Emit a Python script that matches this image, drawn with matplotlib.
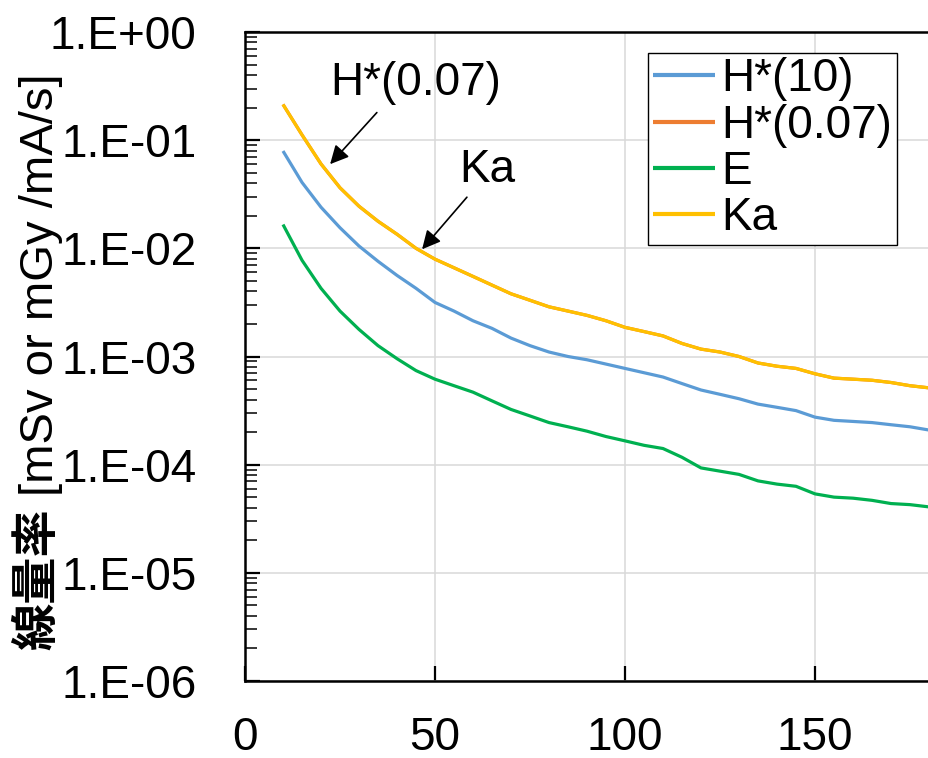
import numpy as np
import matplotlib
matplotlib.use('Agg')
import matplotlib.pyplot as plt
from matplotlib.ticker import FixedLocator, FuncFormatter, LogLocator, NullFormatter

plt.rcParams['font.family'] = ['Liberation Sans', 'DejaVu Sans']

# x axis values
x = [10, 15, 20, 25, 30, 35, 40, 45, 50, 55, 60, 65, 70, 75, 80, 85, 90, 95, 100,
     105, 110, 115, 120, 125, 130, 135, 140, 145, 150, 155, 160, 165, 170, 175, 180]

h10 = [0.0794, 0.0407, 0.0240, 0.0155, 0.0105, 0.00759, 0.00562, 0.00427, 0.00316,
       0.00263, 0.00214, 0.00182, 0.00148, 0.00126, 0.00110, 0.00100, 9.33e-4, 8.51e-4,
       7.76e-4, 7.08e-4, 6.46e-4, 5.62e-4, 4.90e-4, 4.47e-4, 4.07e-4, 3.63e-4, 3.39e-4,
       3.16e-4, 2.75e-4, 2.57e-4, 2.51e-4, 2.45e-4, 2.34e-4, 2.24e-4, 2.09e-4]

# H*(0.07) lies exactly under Ka in the picture
h007 = [0.214, 0.112, 0.0603, 0.0363, 0.0245, 0.0178, 0.0135, 0.0100, 0.00794,
        0.00661, 0.00550, 0.00457, 0.00380, 0.00331, 0.00288, 0.00263, 0.00240, 0.00214,
        0.00186, 0.00170, 0.00155, 0.00132, 0.00117, 0.00110, 0.00100, 8.71e-4, 8.13e-4,
        7.76e-4, 6.92e-4, 6.31e-4, 6.17e-4, 6.03e-4, 5.75e-4, 5.37e-4, 5.13e-4]

e = [0.0166, 0.00776, 0.00427, 0.00263, 0.00178, 0.00126, 9.55e-4, 7.41e-4, 6.17e-4,
     5.37e-4, 4.68e-4, 3.89e-4, 3.24e-4, 2.82e-4, 2.45e-4, 2.24e-4, 2.04e-4, 1.82e-4,
     1.66e-4, 1.51e-4, 1.41e-4, 1.17e-4, 9.33e-5, 8.71e-5, 8.13e-5, 7.08e-5, 6.61e-5,
     6.31e-5, 5.37e-5, 5.01e-5, 4.90e-5, 4.68e-5, 4.37e-5, 4.27e-5, 4.07e-5]

ka = [0.214, 0.112, 0.0603, 0.0363, 0.0245, 0.0178, 0.0135, 0.0100, 0.00794,
      0.00661, 0.00550, 0.00457, 0.00380, 0.00331, 0.00288, 0.00263, 0.00240, 0.00214,
      0.00186, 0.00170, 0.00155, 0.00132, 0.00117, 0.00110, 0.00100, 8.71e-4, 8.13e-4,
      7.76e-4, 6.92e-4, 6.31e-4, 6.17e-4, 6.03e-4, 5.75e-4, 5.37e-4, 5.13e-4]

labels = ['H*(10)', 'H*(0.07)', 'E', 'Ka']
colors = ['#5B9BD5', '#ED7D31', '#00B050', '#FFC000']
y_ticks = [1e0, 1e-1, 1e-2, 1e-3, 1e-4, 1e-5, 1e-6]
x_ticks = [0, 50, 100, 150]

fig = plt.figure(figsize=(9.29, 7.58), dpi=100)
ax = fig.add_axes([245 / 929, 1 - 681 / 758, 1 - 245 / 929, (681 - 32) / 758])

for ys, lab, col in zip([h10, h007, e, ka], labels, colors):
    ax.plot(x, ys, color=col, lw=2.3, label=lab, solid_capstyle='butt')

ax.set_yscale('log')
ax.set_ylim(1e-6, 1)
ax.set_xlim(0, 180)

ax.yaxis.set_major_locator(FixedLocator(y_ticks))
ax.yaxis.set_major_formatter(FuncFormatter(lambda v, p: f"1.E{int(round(np.log10(v))):+03d}"))
ax.yaxis.set_minor_locator(LogLocator(base=10, subs=np.arange(2, 10)))
ax.yaxis.set_minor_formatter(NullFormatter())
ax.xaxis.set_major_locator(FixedLocator(x_ticks))

ax.tick_params(axis='y', which='major', direction='in', length=11, width=1.6,
               labelsize=33, pad=35)
ax.tick_params(axis='y', which='minor', direction='in', length=8.5, width=1.1)
ax.tick_params(axis='x', which='major', direction='in', length=11, width=1.6,
               labelsize=33, pad=25)

ax.grid(True, which='major', color='#d9d9d9', lw=1.1)
ax.set_axisbelow(True)

for side in ['left', 'bottom', 'top']:
    ax.spines[side].set_linewidth(1.8)
ax.spines['right'].set_visible(False)

# annotations with arrows
ax.annotate('', xy=(22.4, 0.060), xytext=(34.7, 0.18),
            arrowprops=dict(arrowstyle='-|>', mutation_scale=28, lw=1.2, color='black',
                            shrinkA=0, shrinkB=0))
ax.text(45, 0.34, 'H*(0.07)', fontsize=33, ha='center', va='center')
ax.annotate('', xy=(46.6, 0.0098), xytext=(58.4, 0.0297),
            arrowprops=dict(arrowstyle='-|>', mutation_scale=28, lw=1.2, color='black',
                            shrinkA=0, shrinkB=0))
ax.text(63.7, 0.053, 'Ka', fontsize=33, ha='center', va='center')

leg = ax.legend(loc='upper right', bbox_to_anchor=(0.953, 0.968), borderaxespad=0,
                fontsize=33, handlelength=1.35, handletextpad=0.15, labelspacing=0.05,
                borderpad=0.1, frameon=True, fancybox=False, edgecolor='black',
                framealpha=1)
leg.get_frame().set_linewidth(1.0)
for line in leg.get_lines():
    line.set_linewidth(3)

# y label: bold Japanese part plus unit part
fig.text(37 / 929, 1 - 650 / 758, '線量率', rotation=90, fontsize=34, fontweight='bold',
         family=['Noto Sans CJK JP', 'DejaVu Sans'], ha='center', va='bottom')
fig.text(41 / 929, 1 - 496 / 758, '[mSv or mGy /mA/s]', rotation=90, fontsize=34,
         ha='center', va='bottom')

fig.savefig('out.png', dpi=100)
